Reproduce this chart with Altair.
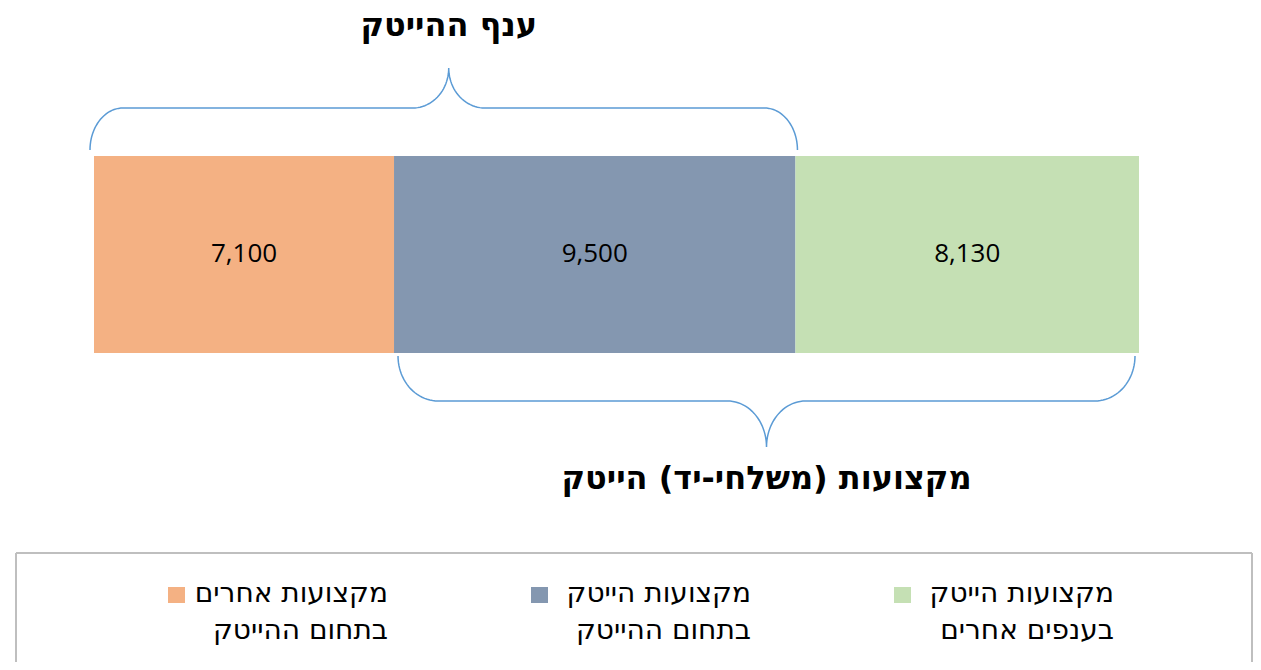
import altair as alt
import numpy as np
import pandas as pd

# ---------------- data ----------------
categories = [
    "מקצועות אחרים בתחום ההייטק",
    "מקצועות הייטק בתחום ההייטק",
    "מקצועות הייטק בענפים אחרים",
]
legend_line1 = ["מקצועות אחרים", "מקצועות הייטק", "מקצועות הייטק"]
legend_line2 = ["בתחום ההייטק", "בתחום ההייטק", "בענפים אחרים"]
values = [7100, 9500, 8130]
colors = ["#F4B183", "#8497B0", "#C5E0B4"]
top_title = "ענף ההייטק"
bottom_title = "מקצועות (משלחי-יד) הייטק"

NUM_FONT = "Open Sans, Noto Sans, DejaVu Sans, sans-serif"
HEB_FONT = "DejaVu Sans"
BRACE_COLOR = "#5B9BD5"

total = float(sum(values))
starts = np.concatenate([[0], np.cumsum(values)[:-1]])
ends = np.cumsum(values)

bars = pd.DataFrame({
    "cat": categories,
    "start": starts,
    "end": ends,
    "mid": (starts + ends) / 2,
    "label": [f"{v:,}" for v in values],
})

# x scale: data units -> pixels of the plot
R0, R1 = 86, 1131
xscale = alt.Scale(domain=[0, total], range=[R0, R1])


def px(v):
    return R0 + v / total * (R1 - R0)


def dv(p):
    return (p - R0) / (R1 - R0) * total


def brace(name, a, b, base_y, mid_y, tip_y, rc, rt, tip_shift=0.0, n=24):
    """Curly brace path (pixel space) from a to b; returns x in data units."""
    tipx = (a + b) / 2 + tip_shift
    t = np.linspace(0, np.pi / 2, n)
    xs, ys = [], []
    xs += list(a + rc - rc * np.cos(t)); ys += list(base_y + (mid_y - base_y) * np.sin(t))
    xs += list(tipx - rt + rt * np.sin(t)); ys += list(tip_y + (mid_y - tip_y) * np.cos(t))
    xs += list(tipx + rt - rt * np.cos(t)); ys += list(tip_y + (mid_y - tip_y) * np.sin(t))
    xs += list(b - rc + rc * np.sin(t)); ys += list(base_y + (mid_y - base_y) * np.cos(t))
    return pd.DataFrame({"x": [dv(x) for x in xs], "y": ys,
                         "i": range(len(xs)), "brace": name}), dv(tipx)


top_df, top_tip = brace("top", px(0) - 4, px(values[0] + values[1]) + 2,
                        142, 100, 60, 33, 36, tip_shift=5)
bot_df, bot_tip = brace("bottom", px(values[0]) + 4, px(total) - 4,
                        348, 393, 439, 40, 39)
braces_df = pd.concat([top_df, bot_df], ignore_index=True)

titles = pd.DataFrame({
    "x": [top_tip, bot_tip],
    "y": [18, 471],
    "t": [top_title, bottom_title],
})

SPACING = 363
legend = pd.DataFrame({
    "cat": categories,
    "text": [f"{l1}\n{l2}" for l1, l2 in zip(legend_line1, legend_line2)],
    "sx": [160 + i * SPACING for i in range(3)],
    "sx2": [177 + i * SPACING for i in range(3)],
    "tx": [380 + i * SPACING for i in range(3)],
})

color = alt.Color("cat:N", scale=alt.Scale(domain=categories, range=colors), legend=None)

# ---------------- layers ----------------
bar = alt.Chart(bars).mark_rect().encode(
    x=alt.X("start:Q", scale=xscale, axis=None),
    x2="end:Q",
    y=alt.value(148),
    y2=alt.value(345),
    color=color,
)

bar_text = alt.Chart(bars).mark_text(
    font=NUM_FONT, fontSize=26, color="#000000", baseline="middle", align="center"
).encode(
    x=alt.X("mid:Q", scale=xscale, axis=None),
    y=alt.value(246),
    text="label:N",
)

brace_lines = alt.Chart(braces_df).mark_line(
    color=BRACE_COLOR, strokeWidth=1.5
).encode(
    x=alt.X("x:Q", scale=xscale, axis=None),
    y=alt.Y("y:Q", scale=None, axis=None),
    detail="brace:N",
    order="i:Q",
)

title_text = alt.Chart(titles).mark_text(
    font=HEB_FONT, fontSize=32, fontWeight="bold", color="#000000",
    baseline="middle", align="center"
).encode(
    x=alt.X("x:Q", scale=xscale, axis=None),
    y=alt.Y("y:Q", scale=None, axis=None),
    text="t:N",
)

one = pd.DataFrame({"a": [0]})
box_top = alt.Chart(one).mark_rule(color="#BFBFBF", strokeWidth=2).encode(
    x=alt.value(8), x2=alt.value(1244), y=alt.value(545))
box_left = alt.Chart(one).mark_rule(color="#BFBFBF", strokeWidth=2).encode(
    x=alt.value(8), y=alt.value(545), y2=alt.value(660))
box_right = alt.Chart(one).mark_rule(color="#BFBFBF", strokeWidth=2).encode(
    x=alt.value(1244), y=alt.value(545), y2=alt.value(660))

swatch = alt.Chart(legend).mark_rect().encode(
    x=alt.X("sx:Q", scale=None, axis=None),
    x2="sx2:Q",
    y=alt.value(579),
    y2=alt.value(595),
    color=color,
)

legend_text = alt.Chart(legend).mark_text(
    font=HEB_FONT, fontSize=28, color="#000000", align="right",
    baseline="alphabetic", lineBreak="\n", lineHeight=37
).encode(
    x=alt.X("tx:Q", scale=None, axis=None),
    y=alt.value(594),
    text="text:N",
)

chart = alt.layer(
    bar, bar_text, brace_lines, title_text,
    box_top, box_left, box_right, swatch, legend_text
).properties(
    width=1245, height=654,
    autosize=alt.AutoSizeParams(type="none"),
    padding=0,
).configure_view(stroke=None)

chart.save("out.html", embed_options={"renderer": "svg", "actions": False})
